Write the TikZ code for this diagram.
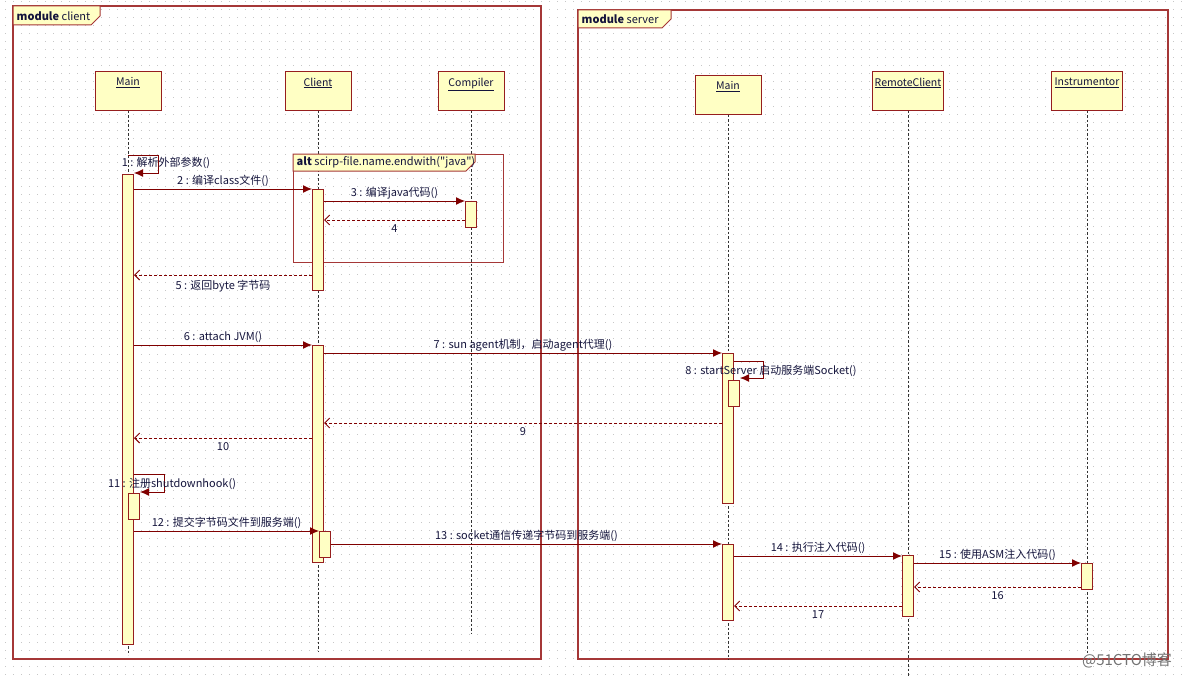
\documentclass[tikz,border=0pt]{standalone}
\usepackage{fontspec}
\setmainfont{Noto Sans CJK SC}
\newfontfamily\plainquote{Noto Sans CJK SC}
\usetikzlibrary{arrows.meta}

\definecolor{frameRed}{RGB}{165,55,55}
\definecolor{boxRed}{RGB}{150,30,30}
\definecolor{boxYellow}{RGB}{255,255,196}
\definecolor{arrowRed}{RGB}{128,0,0}
\definecolor{lblBlue}{RGB}{20,20,60}

\tikzset{
  griddot/.style={black!22, line width=1pt, dash pattern=on 1pt off 7pt},
  modframe/.style={draw=frameRed, line width=1.3pt},
  modtab/.style={draw=frameRed, fill=boxYellow, line width=1pt},
  head/.style={draw=boxRed, fill=boxYellow, line width=1pt, minimum width=66pt, minimum height=38pt, inner sep=0pt},
  headlbl/.style={anchor=north, inner sep=6pt, text=lblBlue, font=\fontsize{10.5}{12}\selectfont},
  lifeline/.style={black!80, line width=1pt, dash pattern=on 2.5pt off 2pt},
  actbar/.style={draw=boxRed, fill=boxYellow, line width=1pt, minimum width=11pt, inner sep=0pt, anchor=north},
  msg/.style={arrowRed, line width=1pt, -{Latex[length=9pt,width=8pt]}},
  ret/.style={arrowRed, line width=1pt, dash pattern=on 3pt off 2pt, -{Straight Barb[length=5pt,width=10pt]}},
  msglbl/.style={text=lblBlue, inner sep=1.5pt, font=\fontsize{11}{13}\selectfont},
}

\begin{document}
\begin{tikzpicture}[x=1pt,y=-1pt]
\useasboundingbox (0,0) rectangle (1184,677);

% dotted grid
\foreach \gy in {2,10,...,674}
  \draw[griddot] (5,\gy) -- (1184,\gy);

% module frames
\draw[modframe] (13,6) rectangle (541,659);
\draw[modtab] (13,6) -- (100,6) -- (100,16) -- (91,25) -- (13,25) -- cycle;
\node[anchor=west, msglbl] (tclient) at (15,16) {\textbf{module} client};

\draw[modframe] (578,10) rectangle (1168,659);
\draw[modtab] (578,10) -- (671,10) -- (671,19) -- (662,28) -- (578,28) -- cycle;
\node[anchor=west, msglbl] (tserver) at (580,19) {\textbf{module} server};

% lifeline heads
\node[head] (cmain) at (128,91) {};
\node[headlbl] at (cmain.north) {\underline{Main}};
\node[head] (client) at (318,91) {};
\node[headlbl] at (client.north) {\underline{Client}};
\node[head] (comp) at (471,91) {};
\node[headlbl] at (comp.north) {\underline{Compiler}};
\node[head] (smain) at (728,95) {};
\node[headlbl] at (smain.north) {\underline{Main}};
\node[head, minimum width=71pt] (rem) at (908,91) {};
\node[headlbl] at (rem.north) {\underline{RemoteClient}};
\node[head, minimum width=71pt] (inst) at (1087,91) {};
\node[headlbl] at (inst.north) {\underline{Instrumentor}};

% lifelines
\draw[lifeline] (cmain.south) -- (cmain.south |- 0,655);
\draw[lifeline] (client.south) -- (client.south |- 0,651);
\draw[lifeline] (comp.south) -- (comp.south |- 0,633);
\draw[lifeline] (smain.south) -- (smain.south |- 0,660);
\draw[lifeline] (rem.south) -- (rem.south |- 0,677);
\draw[lifeline] (inst.south) -- (inst.south |- 0,654);

% alt fragment
\draw[modframe, line width=1pt] (293,154) rectangle (503,262);
\draw[modtab] (293,154) -- (475,154) -- (475,162) -- (466,171) -- (293,171) -- cycle;
\node[anchor=west, msglbl] (talt) at (295,162) {\textbf{alt} scirp-file.name.endwith({\plainquote"}java{\plainquote"})};

% activation bars
\node[actbar, minimum height=470pt] (cmainA) at (128,174) {};
\node[actbar, minimum height=26pt] (cnest11) at (134,493) {};
\node[actbar, minimum height=101pt] (clientA) at (318,189) {};
\node[actbar, minimum height=217pt] (clientB) at (318,345) {};
\node[actbar, minimum height=26pt] (cnest12) at (325,531) {};
\node[actbar, minimum height=26pt] (compA) at (471,201) {};
\node[actbar, minimum height=150pt] (smainA) at (728,353) {};
\node[actbar, minimum height=26pt] (snest8) at (734,380) {};
\node[actbar, minimum height=76pt] (smainB) at (728,544) {};
\node[actbar, minimum height=61pt] (remA) at (908,555) {};
\node[actbar, minimum height=26pt] (instA) at (1087,563) {};

% messages
\draw[msg] (cmain.south |- 0,155) -- (158,155) -- (158,173) -- (cmainA.east |- 0,173);
\node[msglbl] (l1) at (166,163) {1 : 解析外部参数()};
\draw[msg] (cmainA.east |- 0,189) -- (clientA.west |- 0,189)
  node[midway, above, msglbl] (l2) {2 : 编译class文件()};
\draw[msg] (clientA.east |- 0,201) -- (compA.west |- 0,201)
  node[midway, above, msglbl] (l3) {3 : 编译java代码()};
\draw[ret] (compA.west |- 0,220) -- (clientA.east |- 0,220)
  node[midway, below=3pt, msglbl] (l4) {4};
\draw[ret] (clientA.west |- 0,275) -- (cmainA.east |- 0,275)
  node[midway, below=3pt, msglbl] (l5) {5 : 返回byte 字节码};
\draw[msg] (cmainA.east |- 0,345) -- (clientB.west |- 0,345)
  node[midway, above, msglbl] (l6) {6 : attach JVM()};
\draw[msg] (clientB.east |- 0,353) -- (smainA.west |- 0,353)
  node[midway, above, msglbl] (l7) {7 : sun agent机制，启动agent代理()};
\draw[msg] (smainA.east |- 0,361) -- (763,361) -- (763,378) -- (snest8.east |- 0,378);
\node[msglbl] (l8) at (771,371) {8 : startServer 启动服务端Socket()};
\draw[ret] (smainA.west |- 0,423) -- (clientB.east |- 0,423)
  node[midway, below=3pt, msglbl] (l9) {9};
\draw[ret] (clientB.west |- 0,438) -- (cmainA.east |- 0,438)
  node[midway, below=3pt, msglbl] (l10) {10};
\draw[msg] (cmainA.east |- 0,474) -- (164,474) -- (164,492) -- (cnest11.east |- 0,492);
\node[msglbl] (l11) at (172,484) {11 : 注册shutdownhook()};
\draw[msg] (cmainA.east |- 0,531) -- (cnest12.west |- 0,531)
  node[midway, above, msglbl] (l12) {12 : 提交字节码文件到服务端()};
\draw[msg] (cnest12.east |- 0,544) -- (smainB.west |- 0,544)
  node[midway, above, msglbl] (l13) {13 : socket通信传递字节码到服务端()};
\draw[msg] (smainB.east |- 0,556) -- (remA.west |- 0,556)
  node[midway, above, msglbl] (l14) {14 : 执行注入代码()};
\draw[msg] (remA.east |- 0,563) -- (instA.west |- 0,563)
  node[midway, above, msglbl] (l15) {15 : 使用ASM注入代码()};
\draw[ret] (instA.west |- 0,587) -- (remA.east |- 0,587)
  node[midway, below=3pt, msglbl] (l16) {16};
\draw[ret] (remA.west |- 0,606) -- (smainB.east |- 0,606)
  node[midway, below=3pt, msglbl] (l17) {17};

% watermark
\node[text=black!55, font=\fontsize{15}{17}\selectfont] (mark) at (1127,660) {@51CTO博客};

\end{tikzpicture}
\end{document}
